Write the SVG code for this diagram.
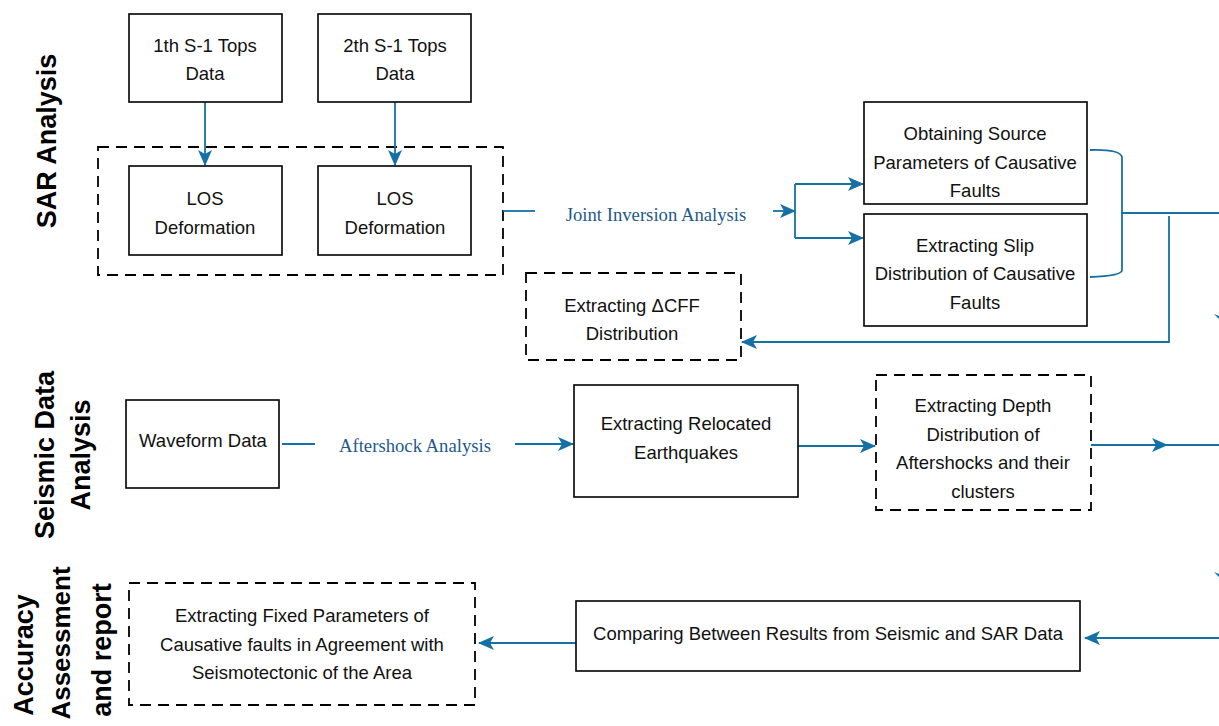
<svg xmlns="http://www.w3.org/2000/svg" width="1219" height="726" viewBox="0 0 1219 726">
<defs>
<marker id="ah" viewBox="0 0 16 14" refX="15" refY="7" markerWidth="16" markerHeight="14" markerUnits="userSpaceOnUse" orient="auto">
<path d="M0,0 L16,7 L0,14 L4,7 Z" fill="#1570a6"/>
</marker>
<style>
.box{fill:#fff;stroke:#000;stroke-width:1.6}
.dash{fill:#fff;stroke:#000;stroke-width:1.8;stroke-dasharray:11 7}
.t{font-family:"Liberation Sans",Arial,sans-serif;font-size:18.5px;fill:#111;text-anchor:middle}
.side{font-family:"Liberation Sans",Arial,sans-serif;font-size:27px;font-weight:bold;fill:#000;text-anchor:middle;dominant-baseline:central}
.lbl{font-family:"Liberation Serif","Times New Roman",serif;font-size:18.7px;fill:#1f5a8a;text-anchor:middle}
.c{fill:none;stroke:#1570a6;stroke-width:1.8}
.a{fill:none;stroke:#1570a6;stroke-width:1.8;marker-end:url(#ah)}
</style>
</defs>
<rect width="1219" height="726" fill="#fff"/>

<g id="side-labels">
<text class="side" transform="translate(47,141) rotate(-90)">SAR Analysis</text>
<text class="side" transform="translate(45,455) rotate(-90)">Seismic Data</text>
<text class="side" transform="translate(81,455) rotate(-90)">Analysis</text>
<text class="side" transform="translate(24,655) rotate(-90)">Accuracy</text>
<text class="side" transform="translate(61,643) rotate(-90)" style="font-size:26px">Assessment</text>
<text class="side" transform="translate(102,650) rotate(-90)">and report</text>
</g>

<g id="sar-group">
<rect class="dash" x="98" y="147" width="405" height="128"/>
</g>

<g id="connectors">
<path class="a" d="M205,102 V165"/>
<path class="a" d="M395,102 V165"/>
<path class="c" d="M503,211 H535"/>
<path class="a" d="M773,211 H795"/>
<path class="c" d="M795,184 V238"/>
<path class="a" d="M795,184 H863"/>
<path class="a" d="M795,238 H863"/>
<path class="c" d="M1090,150 Q1122,149 1122,158 V270 Q1122,276 1090,277"/>
<path class="c" d="M1122,213 H1219"/>
<path class="a" d="M1169,216 V342 H742"/>
<path class="c" d="M282,444 H315"/>
<path class="a" d="M515,444 H573"/>
<path class="a" d="M798,446 H875"/>
<path class="a" d="M1091,445 H1167"/>
<path class="c" d="M1165,445 H1219"/>
<path class="a" d="M1219,638 H1085"/>
<path class="a" d="M576,643 H479"/>
<path d="M1214,314 L1222,322 L1226,312 L1222,317 Z" fill="#1570a6"/>
<path d="M1214,572 L1222,580 L1226,570 L1222,575 Z" fill="#1570a6"/>
<circle cx="772" cy="463" r="1" fill="#e03030"/>
</g>

<g id="connector-labels">
<text class="lbl" x="656" y="221">Joint Inversion Analysis</text>
<text class="lbl" x="415" y="452">Aftershock Analysis</text>
</g>

<g id="n-s1-1"><rect class="box" x="129" y="14" width="153" height="88"/>
<text class="t" x="205" y="52">1th S-1 Tops</text><text class="t" x="205" y="80">Data</text></g>
<g id="n-s1-2"><rect class="box" x="318" y="14" width="153" height="88"/>
<text class="t" x="395" y="52">2th S-1 Tops</text><text class="t" x="395" y="80">Data</text></g>
<g id="n-los-1"><rect class="box" x="129" y="166" width="153" height="89"/>
<text class="t" x="205" y="205">LOS</text><text class="t" x="205" y="234">Deformation</text></g>
<g id="n-los-2"><rect class="box" x="318" y="166" width="153" height="89"/>
<text class="t" x="395" y="205">LOS</text><text class="t" x="395" y="234">Deformation</text></g>
<g id="n-source"><rect class="box" x="864" y="102" width="223" height="102"/>
<text class="t" x="975" y="140">Obtaining Source</text><text class="t" x="975" y="169">Parameters of Causative</text><text class="t" x="975" y="197">Faults</text></g>
<g id="n-slip"><rect class="box" x="864" y="214" width="223" height="112"/>
<text class="t" x="975" y="252">Extracting Slip</text><text class="t" x="975" y="280">Distribution of Causative</text><text class="t" x="975" y="309">Faults</text></g>
<g id="n-cff"><rect class="dash" x="526" y="273" width="215" height="87"/>
<text class="t" x="632" y="312">Extracting ΔCFF</text><text class="t" x="632" y="340">Distribution</text></g>
<g id="n-waveform"><rect class="box" x="126" y="400" width="153" height="88"/>
<text class="t" x="203" y="447">Waveform Data</text></g>
<g id="n-relocated"><rect class="box" x="574" y="385" width="224" height="112"/>
<text class="t" x="686" y="430">Extracting Relocated</text><text class="t" x="686" y="459">Earthquakes</text></g>
<g id="n-depth"><rect class="dash" x="876" y="375" width="215" height="135"/>
<text class="t" x="983" y="412">Extracting Depth</text><text class="t" x="983" y="441">Distribution of</text><text class="t" x="983" y="469">Aftershocks and their</text><text class="t" x="983" y="498">clusters</text></g>
<g id="n-fixed"><rect class="dash" x="129" y="583" width="346" height="122"/>
<text class="t" x="302" y="622">Extracting Fixed Parameters of</text><text class="t" x="302" y="651">Causative faults in Agreement with</text><text class="t" x="302" y="679">Seismotectonic of the Area</text></g>
<g id="n-compare"><rect class="box" x="576" y="601" width="504" height="70"/>
<text class="t" x="828" y="640">Comparing Between Results from Seismic and SAR Data</text></g>
</svg>
